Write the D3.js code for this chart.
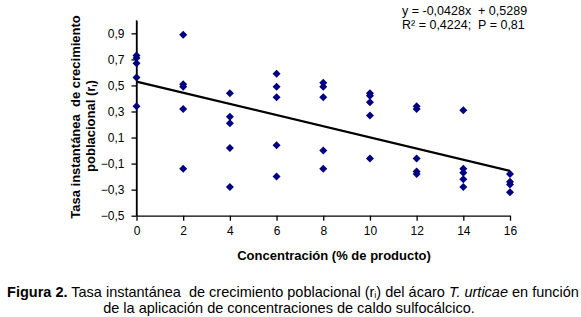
<!DOCTYPE html>
<html><head><meta charset="utf-8">
<script src="https://cdn.jsdelivr.net/npm/d3@7"></script>
<style>
html,body{margin:0;padding:0;background:#fff;}
svg{display:block;font-family:"Liberation Sans",Arial,sans-serif;}
text{white-space:pre;}
</style></head>
<body>
<script>
const concentrations = [0,0,0,0,0, 2,2,2,2,2, 4,4,4,4,4, 6,6,6,6,6, 8,8,8,8,8, 10,10,10,10,10, 12,12,12,12,12, 14,14,14,14,14, 16,16,16,16];
const rates = [0.73,0.71,0.67,0.56,0.34, 0.89,0.51,0.49,0.32,-0.14, 0.44,0.26,0.21,0.02,-0.28, 0.59,0.49,0.41,0.04,-0.20, 0.52,0.49,0.41,0.00,-0.14, 0.44,0.42,0.37,0.27,-0.06, 0.34,0.32,-0.06,-0.16,-0.18, 0.31,-0.14,-0.17,-0.22,-0.28, -0.18,-0.24,-0.26,-0.32];
const xTicks = [0,2,4,6,8,10,12,14,16];
const yTicks = [-0.5,-0.3,-0.1,0.1,0.3,0.5,0.7,0.9];
const slope = -0.0428, intercept = 0.5289;
const equationLines = ["y = -0,0428x  + 0,5289", "R² = 0,4224;  P = 0,81"];

const W = 581, H = 317;
const svg = d3.select("body").append("svg").attr("width", W).attr("height", H);

const x = d3.scaleLinear().domain([0,16]).range([136.5,510]);
const y = d3.scaleLinear().domain([-0.5,1.0]).range([215.7,20.3]);
const fmt = d => d3.format(".1f")(d).replace(".", ",");

// axes
const yAxis = svg.append("g").attr("transform", `translate(${x(0)},0)`)
  .call(d3.axisLeft(y).tickValues(yTicks).tickSize(5).tickSizeOuter(0).tickFormat(fmt));
const xAxis = svg.append("g").attr("transform", `translate(0,${y(-0.5)})`)
  .call(d3.axisBottom(x).tickValues(xTicks).tickSize(5).tickSizeOuter(0).tickFormat(d3.format("d")));
[yAxis, xAxis].forEach(g => {
  g.select(".domain").attr("stroke", "#000").attr("stroke-width", 1.3);
  g.selectAll(".tick line").attr("stroke", "#000").attr("stroke-width", 1.3);
  g.selectAll(".tick text").attr("fill", "#000").style("font-size", "12px").style("font-family", "Liberation Sans, Arial, sans-serif");
});
yAxis.selectAll(".tick text").attr("x", -12);
xAxis.selectAll(".tick text").attr("y", 11);
// y axis extends to top (1.0)
svg.append("line").attr("x1", x(0)).attr("x2", x(0)).attr("y1", y(1.0)).attr("y2", y(-0.5))
  .attr("stroke", "#000").attr("stroke-width", 1.3);

// trend line
svg.append("line")
  .attr("x1", x(0)).attr("y1", y(intercept))
  .attr("x2", x(16)).attr("y2", y(intercept + slope*16))
  .attr("stroke", "#000").attr("stroke-width", 2.2);

// points
const diamond = { draw(ctx, size) { const r = Math.sqrt(size)/2; ctx.moveTo(0,-r); ctx.lineTo(r,0); ctx.lineTo(0,r); ctx.lineTo(-r,0); ctx.closePath(); } };
svg.append("g").selectAll("path").data(rates).join("path")
  .attr("transform", (d,i) => `translate(${x(concentrations[i])},${y(d)})`)
  .attr("d", d3.symbol().type(diamond).size(64))
  .attr("fill", "#000080");

// equation
svg.append("g").selectAll("text").data(equationLines).join("text")
  .attr("x", 402).attr("y", (d,i) => 15 + i*14)
  .style("font-size", "12.5px").attr("fill", "#000").text(d => d);

// axis titles
svg.append("text").attr("x", 334).attr("y", 260).attr("text-anchor", "middle")
  .style("font-size", "13px").style("font-weight", "bold").text("Concentración (% de producto)");
const yt = svg.append("g").attr("transform", "translate(79.5,117) rotate(-90)");
yt.append("text").attr("x", 0).attr("y", 0).attr("text-anchor", "middle")
  .style("font-size", "13px").style("font-weight", "bold").text("Tasa instantánea  de crecimiento");
const l2 = yt.append("text").attr("x", -9).attr("y", 15).attr("text-anchor", "middle")
  .style("font-size", "13px").style("font-weight", "bold");
l2.append("tspan").text("poblacional (r");
l2.append("tspan").attr("dy", 2).style("font-size", "8px").text("i");
l2.append("tspan").attr("dy", -2).text(")");

// caption
const c1 = svg.append("text").attr("x", 293).attr("y", 296.5).attr("text-anchor", "middle").style("font-size", "14.5px");
c1.append("tspan").style("font-weight", "bold").text("Figura 2.");
c1.append("tspan").text(" Tasa instantánea  de crecimiento poblacional (r");
c1.append("tspan").attr("dy", 1).style("font-size", "9px").text("i");
c1.append("tspan").attr("dy", -1).text(") del ácaro ");
c1.append("tspan").style("font-style", "italic").text("T. urticae");
c1.append("tspan").text(" en función");
svg.append("text").attr("x", 289).attr("y", 313).attr("text-anchor", "middle").style("font-size", "14.5px")
  .text("de la aplicación de concentraciones de caldo sulfocálcico.");
</script>
</body></html>
